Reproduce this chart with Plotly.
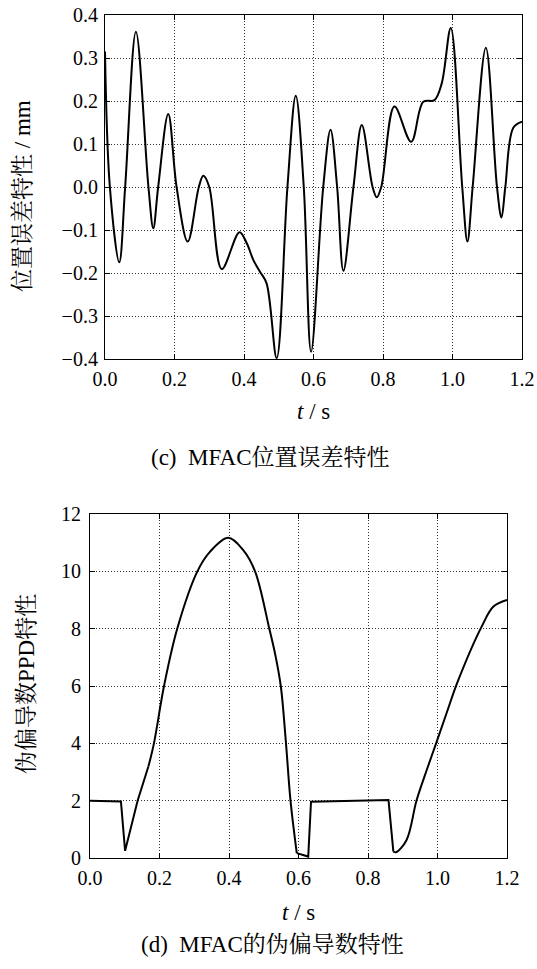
import plotly.graph_objects as go

# ---- data: position error (c) ----
t_err = [0.000, 0.014, 0.041, 0.058, 0.089, 0.125, 0.139, 0.153, 0.182, 0.206, 0.238, 0.270,
         0.283, 0.300, 0.336, 0.387, 0.408, 0.427, 0.446, 0.465, 0.494, 0.525, 0.549, 0.572,
         0.593, 0.628, 0.649, 0.668, 0.686, 0.715, 0.739, 0.770, 0.782, 0.795, 0.833, 0.881,
         0.916, 0.948, 0.969, 0.995, 1.028, 1.043, 1.058, 1.096, 1.128, 1.141, 1.152, 1.175, 1.200]
e_err = [0.315, 0.000, -0.175, 0.000, 0.361, 0.000, -0.096, 0.000, 0.170, 0.000, -0.127, 0.000,
         0.026, 0.000, -0.191, -0.105, -0.131, -0.170, -0.197, -0.224, -0.398, 0.000, 0.212, 0.000,
         -0.383, 0.000, 0.133, 0.000, -0.195, 0.000, 0.144, 0.000, -0.024, 0.000, 0.187, 0.105,
         0.198, 0.202, 0.241, 0.370, 0.000, -0.127, 0.000, 0.324, 0.000, -0.071, 0.000, 0.138, 0.152]

# ---- data: PPD (d) ----
t_ppd = [0.000, 0.089, 0.101, 0.137, 0.168, 0.184, 0.213, 0.251, 0.309, 0.345, 0.398, 0.441,
         0.475, 0.516, 0.533, 0.549, 0.564, 0.577, 0.595, 0.628, 0.636, 0.859, 0.873, 0.881,
         0.911, 0.940, 0.969, 0.996, 1.026, 1.060, 1.127, 1.161, 1.200]
v_ppd = [2.00, 1.97, 0.25, 2.00, 3.19, 4.00, 6.00, 8.00, 10.00, 10.68, 11.17, 10.74,
         10.00, 8.00, 7.10, 6.00, 4.00, 2.00, 0.17, 0.05, 1.96, 2.02, 0.22, 0.20,
         0.63, 2.02, 3.07, 4.00, 5.05, 6.21, 8.07, 8.77, 9.00]

x_ticks = [0.0, 0.2, 0.4, 0.6, 0.8, 1.0, 1.2]
y1_ticks = [-0.4, -0.3, -0.2, -0.1, 0.0, 0.1, 0.2, 0.3, 0.4]
y2_ticks = [0, 2, 4, 6, 8, 10, 12]

SERIF = "Liberation Serif, Times New Roman, serif"
CJK = "Liberation Serif, Noto Serif CJK SC, Noto Sans CJK SC, serif"
W, H = 537, 969

fig = go.Figure()
fig.add_trace(go.Scatter(x=t_err, y=e_err, mode="lines", xaxis="x", yaxis="y",
                         line=dict(color="black", width=2, shape="spline", smoothing=1.0),
                         showlegend=False))

# PPD curve: linear where the curve has kinks, spline where it is smooth
segments = [(0, 5, "linear"), (4, 19, "spline"), (18, 23, "linear"), (22, len(t_ppd), "spline")]
for a, b, shape in segments:
    fig.add_trace(go.Scatter(x=t_ppd[a:b], y=v_ppd[a:b], mode="lines", xaxis="x2", yaxis="y2",
                             line=dict(color="black", width=2, shape=shape, smoothing=1.0),
                             showlegend=False))

def ax(**kw):
    d = dict(showline=True, linecolor="black", linewidth=1.2, mirror="ticks",
             ticks="inside", ticklen=5, tickcolor="black", tickwidth=1,
             showgrid=True, gridcolor="#333", griddash="1px,2px", gridwidth=1,
             zeroline=False, automargin=False,
             tickfont=dict(family=SERIF, size=20, color="black"))
    d.update(kw)
    return d

px2x = lambda p: p / W
px2y = lambda p: 1 - p / H

fig.update_layout(
    width=W, height=H, margin=dict(l=0, r=0, t=0, b=0, autoexpand=False),
    plot_bgcolor="white", paper_bgcolor="white", showlegend=False,
    xaxis=ax(domain=[px2x(105), px2x(522)], range=[0, 1.2], tickvals=x_ticks,
             tickformat=".1f", anchor="y", ticklabelstandoff=2),
    yaxis=ax(domain=[px2y(359), px2y(15)], range=[-0.4, 0.4], tickvals=y1_ticks,
             tickformat=".1f", anchor="x", ticklabelstandoff=2),
    xaxis2=ax(domain=[px2x(90), px2x(507)], range=[0, 1.2], tickvals=x_ticks,
              tickformat=".1f", anchor="y2", ticklabelstandoff=2),
    yaxis2=ax(domain=[px2y(858), px2y(514)], range=[0, 12], tickvals=y2_ticks,
              anchor="x2", ticklabelstandoff=4),
)

ann = [
    dict(x=px2x(313), y=px2y(412), text="<i>t</i> / s", size=23, angle=0),
    dict(x=px2x(270), y=px2y(457), text="(c)  MFAC位置误差特性", size=23, angle=0),
    dict(x=px2x(298), y=px2y(912), text="<i>t</i> / s", size=23, angle=0),
    dict(x=px2x(272), y=px2y(944), text="(d)  MFAC的伪偏导数特性", size=23, angle=0),
    dict(x=px2x(22), y=px2y(196), text="位置误差特性 / mm", size=23, angle=-90),
    dict(x=px2x(26), y=px2y(684), text="伪偏导数PPD特性", size=23, angle=-90),
]
for a in ann:
    fig.add_annotation(x=a["x"], y=a["y"], xref="paper", yref="paper", text=a["text"],
                       showarrow=False, textangle=a["angle"], xanchor="center", yanchor="middle",
                       font=dict(family=CJK, size=a["size"], color="black"))

fig.write_html("out.html")
